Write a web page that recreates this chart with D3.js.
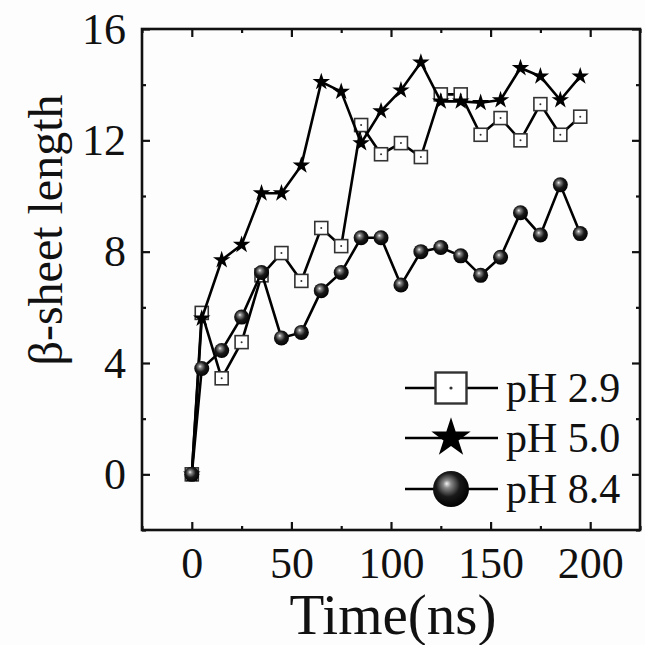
<!DOCTYPE html>
<html>
<head>
<meta charset="utf-8">
<script src="https://cdn.jsdelivr.net/npm/d3@7"></script>
<style>
  html, body { margin: 0; padding: 0; background: #fdfdfe; }
  svg { display: block; }
  text { font-family: "Liberation Serif", "DejaVu Serif", serif; fill: #111; }
</style>
</head>
<body>
<svg width="645" height="645"></svg>
<script>
// time points (ns)
const times = [0, 5, 15, 25, 35, 45, 55, 65, 75, 85, 95, 105, 115, 125, 135, 145, 155, 165, 175, 185, 195];
// beta-sheet length for each pH
const ph29 = [0, 5.8, 3.45, 4.75, 7.15, 7.95, 6.95, 8.85, 8.2, 12.55, 11.5, 11.9, 11.4, 13.65, 13.65, 12.2, 12.8, 12.0, 13.3, 12.2, 12.85];
const ph50 = [0, 5.6, 7.7, 8.25, 10.1, 10.1, 11.1, 14.1, 13.75, 11.9, 13.05, 13.8, 14.8, 13.4, 13.4, 13.35, 13.45, 14.6, 14.3, 13.45, 14.3];
const ph84 = [0, 3.8, 4.45, 5.65, 7.25, 4.9, 5.1, 6.6, 7.25, 8.5, 8.5, 6.8, 8.0, 8.15, 7.85, 7.15, 7.8, 9.4, 8.6, 10.4, 8.65];
const legendLabels = ["pH 2.9", "pH 5.0", "pH 8.4"];
const xMajor = [0, 50, 100, 150, 200];
const xMinor = [-25, 25, 75, 125, 175, 225];
const yMajor = [0, 4, 8, 12, 16];
const yMinor = [-2, 2, 6, 10, 14];

const svg = d3.select("svg");
const area = { left: 142, right: 640, top: 29, bottom: 530 };

const scX = d3.scaleLinear().domain([-25, 225]).range([area.left, area.right]);
const scY = d3.scaleLinear().domain([-2, 16]).range([area.bottom, area.top]);

// gradient for the balls
const defs = svg.append("defs");
const grad = defs.append("radialGradient")
  .attr("id", "ball")
  .attr("cx", "45%").attr("cy", "42%").attr("r", "60%")
  .attr("fx", "38%").attr("fy", "35%");
grad.append("stop").attr("offset", "0%").attr("stop-color", "#f2f2f2");
grad.append("stop").attr("offset", "18%").attr("stop-color", "#8a8a8a");
grad.append("stop").attr("offset", "55%").attr("stop-color", "#1a1a1a");
grad.append("stop").attr("offset", "100%").attr("stop-color", "#000");

// axes with inward ticks
function addAxis(axis, transform) {
  const g = svg.append("g").attr("transform", transform).call(axis);
  g.select(".domain").remove();
  g.selectAll("line").attr("stroke", "#111").attr("stroke-width", 2.2);
  return g;
}

const gx = addAxis(d3.axisBottom(scX).tickValues(xMajor).tickSize(-8).tickPadding(16).tickFormat(d3.format("d")),
  `translate(0,${area.bottom})`);
gx.selectAll("text").style("font-size", "44px").attr("font-family", "Liberation Serif").attr("dy", "0.72em");
addAxis(d3.axisBottom(scX).tickValues(xMinor).tickSize(-4).tickFormat(""), `translate(0,${area.bottom})`);
addAxis(d3.axisTop(scX).tickValues(xMajor).tickSize(-8).tickFormat(""), `translate(0,${area.top})`);
addAxis(d3.axisTop(scX).tickValues(xMinor).tickSize(-4).tickFormat(""), `translate(0,${area.top})`);

const gy = addAxis(d3.axisLeft(scY).tickValues(yMajor).tickSize(-8).tickPadding(16),
  `translate(${area.left},0)`);
gy.selectAll("text").style("font-size", "44px").attr("font-family", "Liberation Serif");
addAxis(d3.axisLeft(scY).tickValues(yMinor).tickSize(-4).tickFormat(""), `translate(${area.left},0)`);
addAxis(d3.axisRight(scY).tickValues(yMajor).tickSize(-8).tickFormat(""), `translate(${area.right},0)`);
addAxis(d3.axisRight(scY).tickValues(yMinor).tickSize(-4).tickFormat(""), `translate(${area.right},0)`);

// frame
svg.append("rect")
  .attr("x", area.left).attr("y", area.top)
  .attr("width", area.right - area.left).attr("height", area.bottom - area.top)
  .attr("fill", "none").attr("stroke", "#111").attr("stroke-width", 2.6);

// axis titles
svg.append("text")
  .attr("x", (area.left + area.right) / 2 + 2).attr("y", 634)
  .attr("text-anchor", "middle")
  .style("font-size", "57px")
  .text("Time(ns)");

svg.append("text")
  .attr("transform", `translate(62, 230) rotate(-90)`)
  .attr("text-anchor", "middle")
  .style("font-size", "48px")
  .text("β-sheet length");

// markers
const star = d3.symbol().type(d3.symbolStar);

function drawSquare(g, x, y, s) {
  g.append("rect").attr("x", x - s / 2).attr("y", y - s / 2)
    .attr("width", s).attr("height", s)
    .attr("fill", "#fff").attr("stroke", "#333").attr("stroke-width", s > 20 ? 2.4 : 1.6);
  g.append("circle").attr("cx", x).attr("cy", y).attr("r", s > 20 ? 1.6 : 1).attr("fill", "#333");
}
function drawStar(g, x, y, size) {
  g.append("path").attr("d", star.size(size)())
    .attr("transform", `translate(${x},${y})`)
    .attr("fill", "#000");
}
function drawBall(g, x, y, r) {
  g.append("circle").attr("cx", x).attr("cy", y).attr("r", r)
    .attr("fill", "url(#ball)");
}

const line = d3.line().x((d, i) => scX(times[i])).y(d => scY(d));
const plot = svg.append("g");

const series = [
  { values: ph29, draw: (g, x, y) => drawSquare(g, x, y, 13) },
  { values: ph50, draw: (g, x, y) => drawStar(g, x, y, 95) },
  { values: ph84, draw: (g, x, y) => drawBall(g, x, y, 7.5) }
];

series.forEach(s => {
  const g = plot.append("g");
  g.append("path").datum(s.values)
    .attr("d", line)
    .attr("fill", "none").attr("stroke", "#000").attr("stroke-width", 2.6);
  s.values.forEach((v, i) => s.draw(g, scX(times[i]), scY(v)));
});

// legend
const legend = svg.append("g");
const legendY = [388, 438, 489];
const legendDraw = [
  (g, x, y) => drawSquare(g, x, y, 31),
  (g, x, y) => drawStar(g, x, y, 480),
  (g, x, y) => drawBall(g, x, y, 18)
];
legendLabels.forEach((lab, i) => {
  const y = legendY[i];
  legend.append("line").attr("x1", 405).attr("x2", 498).attr("y1", y).attr("y2", y)
    .attr("stroke", "#000").attr("stroke-width", 2.6);
  legendDraw[i](legend, 451, y);
  legend.append("text").attr("x", 506).attr("y", y).attr("dy", "0.34em")
    .style("font-size", "42px").text(lab);
});
</script>
</body>
</html>
